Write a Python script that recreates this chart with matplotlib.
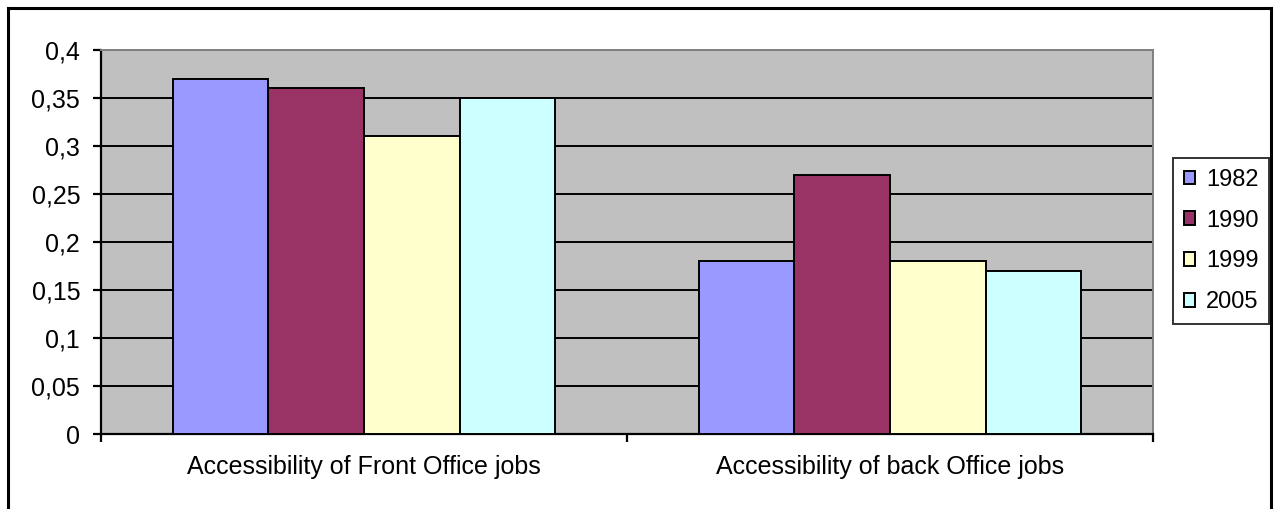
import matplotlib.pyplot as plt
import numpy as np
from matplotlib.lines import Line2D

plt.rcParams['font.family'] = ['Liberation Sans', 'DejaVu Sans']

categories = ['Accessibility of Front Office jobs', 'Accessibility of back Office jobs']
years = ['1982', '1990', '1999', '2005']
v1982 = [0.37, 0.18]
v1990 = [0.36, 0.27]
v1999 = [0.31, 0.18]
v2005 = [0.35, 0.17]
yticks = [0, 0.05, 0.1, 0.15, 0.2, 0.25, 0.3, 0.35, 0.4]

COLORS = ['#9999FF', '#993366', '#FFFFCC', '#CCFFFF']
FS = 18

fig = plt.figure(figsize=(12.74, 5.09), dpi=100)
ax = fig.add_axes([101 / 1274, 1 - 434 / 509, (1153 - 101) / 1274, (434 - 50) / 509])
ax.set_facecolor('#C0C0C0')

# excel style: gap width 150%
n = len(years)
w = 1 / (n + 1.5)
x = np.arange(len(categories))
series = [v1982, v1990, v1999, v2005]
for i, (vals, c, lab) in enumerate(zip(series, COLORS, years)):
    ax.bar(x + (i - (n - 1) / 2) * w, vals, width=w, color=c, edgecolor='black',
           linewidth=1.4, label=lab, zorder=3)

ax.set_xlim(-0.5, len(categories) - 0.5)
ax.set_ylim(0, 0.4)
ax.set_yticks(yticks)
ax.set_yticklabels([('%g' % t).replace('.', ',') for t in yticks], fontsize=FS)
ax.yaxis.grid(True, color='black', linewidth=1.4, zorder=1)
ax.set_axisbelow(True)

ax.set_xticks(x)
ax.set_xticklabels(categories, fontsize=FS)
ax.tick_params(axis='x', which='major', length=0, pad=15)
ax.set_xticks(np.arange(-0.5, len(categories)), minor=True)
ax.tick_params(axis='x', which='minor', length=6, width=1.6, color='black')
ax.tick_params(axis='y', length=6, width=1.6, pad=9)

for s in ['left', 'bottom']:
    ax.spines[s].set_linewidth(1.6)
    ax.spines[s].set_color('black')
for s in ['top', 'right']:
    ax.spines[s].set_linewidth(1.4)
    ax.spines[s].set_color('#808080')

leg = fig.legend(loc='upper left', bbox_to_anchor=(1173 / 1274, 1 - 158 / 509),
                 fontsize=17, frameon=True, fancybox=False, edgecolor='black',
                 handlelength=0.5, handleheight=0.5, handletextpad=0.45,
                 labelspacing=0.8, borderpad=0.45, borderaxespad=0)
leg.get_frame().set_linewidth(1.4)

# outer chart border
bx0, bx1, by = 8 / 1274, 1271 / 1274, 1 - 8 / 509
for xs, ys in [([bx0, bx0], [0, by]), ([bx0, bx1], [by, by]), ([bx1, bx1], [by, 0])]:
    fig.add_artist(Line2D(xs, ys, color='black', linewidth=2.2, transform=fig.transFigure))

plt.savefig('out.png', dpi=100)
